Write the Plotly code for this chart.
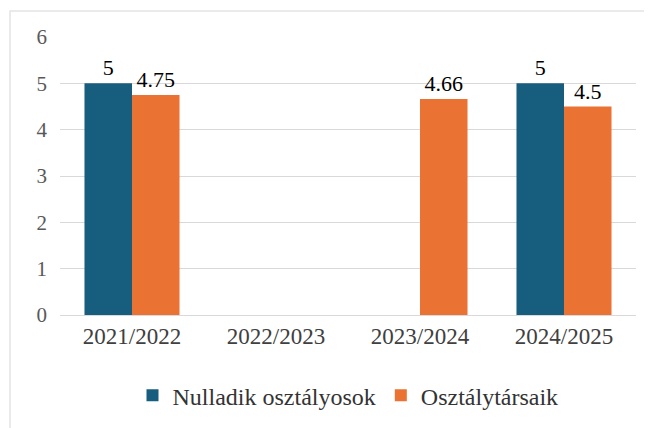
import plotly.graph_objects as go

categories = ["2021/2022", "2022/2023", "2023/2024", "2024/2025"]
nulladik = [5, None, None, 5]
osztalytarsaik = [4.75, None, 4.66, 4.5]
nulladik_labels = ["5", "", "", "5"]
osztaly_labels = ["4.75", "", "4.66", "4.5"]
y_ticks = [0, 1, 2, 3, 4, 5, 6]

font_family = "Liberation Serif"

fig = go.Figure()
fig.add_trace(go.Bar(
    x=categories, y=nulladik, name="Nulladik osztályosok",
    marker=dict(color="#175e7e", line=dict(width=0)),
    text=nulladik_labels, textposition="outside", cliponaxis=False,
    textfont=dict(family=font_family, size=22, color="#000000"),
))
fig.add_trace(go.Bar(
    x=categories, y=osztalytarsaik, name="Osztálytársaik",
    marker=dict(color="#ea7232", line=dict(width=0)),
    text=osztaly_labels, textposition="outside", cliponaxis=False,
    textfont=dict(family=font_family, size=22, color="#000000"),
))

fig.update_layout(
    width=652, height=428,
    margin=dict(l=52, r=24, t=29, b=121, autoexpand=False),
    paper_bgcolor="white", plot_bgcolor="white",
    barmode="group", bargap=0.34, bargroupgap=0,
    font=dict(family=font_family, size=22, color="#595959"),
    showlegend=True,
    legend=dict(orientation="h", x=0.5, xanchor="center", y=-0.29, yanchor="middle",
                font=dict(family=font_family, size=24, color="#333333"),
                itemwidth=30, traceorder="normal"),
    shapes=[dict(type="rect", xref="paper", yref="paper",
                 x0=-50/576, x1=700/576, y0=-500/278, y1=1 + 26/278,
                 line=dict(color="#e4e4e4", width=1.5), layer="below")],
)
fig.update_xaxes(showgrid=False, showline=True, linecolor="#d9d9d9", linewidth=1,
                 ticks="", tickfont=dict(family=font_family, size=23, color="#404040"))
fig.update_yaxes(range=[0, 6], tickvals=y_ticks, showgrid=True, gridcolor="#d9d9d9",
                 gridwidth=1, zeroline=False, ticks="", ticklabelstandoff=12,
                 tickfont=dict(family=font_family, size=21, color="#595959"))

fig.write_html("out.html")
